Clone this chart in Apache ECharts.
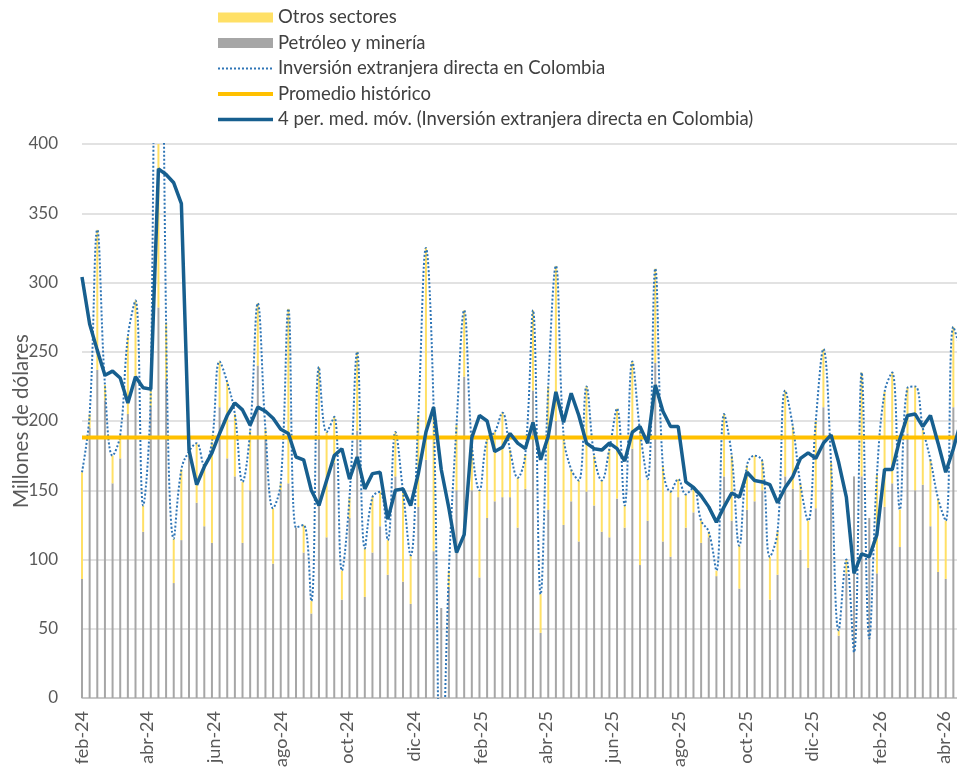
<!DOCTYPE html>
<html>
<head>
<meta charset="utf-8">
<script src="https://cdn.jsdelivr.net/npm/echarts@6/dist/echarts.min.js"></script>
<style>
  html, body { margin: 0; padding: 0; background: #fff; }
  #chart { width: 957px; height: 767px; }
</style>
</head>
<body>
<div id="chart"></div>
<script>
// weekly observations, first week = 2024-02-01
const START_DATE = '2024-02-01';

const tickDates = ['2024-02-01', '2024-04-01', '2024-06-01', '2024-08-01', '2024-10-01', '2024-12-01',
  '2025-02-01', '2025-04-01', '2025-06-01', '2025-08-01', '2025-10-01', '2025-12-01',
  '2026-02-01', '2026-04-01'];
const tickLabels = ['feb-24', 'abr-24', 'jun-24', 'ago-24', 'oct-24', 'dic-24',
  'feb-25', 'abr-25', 'jun-25', 'ago-25', 'oct-25', 'dic-25', 'feb-26', 'abr-26'];

const petroleo = [86, 195, 237, 215, 155, 173, 205, 230, 120, 210, 282, 230, 83, 114, 175, 141, 124, 112, 210, 173,
  160, 112, 150, 240, 190, 97, 150, 155, 123, 105, 61, 190, 116, 170, 71, 130, 193, 73, 105, 124,
  89, 160, 84, 68, 138, 172, 106, 65, 80, 150, 232, 150, 87, 130, 142, 145, 145, 123, 151, 222,
  47, 136, 200, 125, 142, 113, 149, 139, 120, 116, 144, 123, 180, 96, 128, 242, 113, 102, 145, 123,
  134, 112, 116, 88, 160, 128, 79, 136, 142, 150, 71, 89, 160, 151, 107, 94, 137, 210, 150, 45,
  90, 160, 160, 130, 90, 138, 155, 109, 191, 150, 154, 124, 91, 86, 210, 200];

const otros = [77, 10, 101, 11, 20, 17, 56, 57, 19, 12, 598, 41, 32, 51, 3, 43, 44, 73, 33, 55,
  45, 44, 43, 45, 4, 40, 5, 126, 0, 20, 9, 49, 76, 33, 21, 15, 57, 35, 40, 25,
  25, 32, 65, 35, 66, 153, 104, -144, 12, 47, 48, 33, 63, 57, 50, 61, 34, 36, 25, 58,
  28, 89, 112, 65, 23, 44, 76, 36, 37, 64, 65, 16, 63, 97, 30, 68, 54, 47, 13, 24,
  18, 16, 4, 4, 45, 47, 31, 32, 33, 21, 31, 31, 62, 45, 47, 34, 63, 42, 20, 4,
  10, -127, 75, -87, 71, 83, 80, 27, 33, 75, 41, 48, 53, 42, 58, 50];

const ied = [163, 205, 338, 226, 175, 190, 261, 287, 139, 222, 880, 271, 115, 165, 178, 184, 168, 185, 243, 228,
  205, 156, 193, 285, 194, 137, 155, 281, 123, 125, 70, 239, 192, 203, 92, 145, 250, 108, 145, 149,
  114, 192, 149, 103, 204, 325, 210, -79, 92, 197, 280, 183, 150, 187, 192, 206, 179, 159, 176, 280,
  75, 225, 312, 190, 165, 157, 225, 175, 157, 180, 209, 139, 243, 193, 158, 310, 167, 149, 158, 147,
  152, 128, 120, 92, 205, 175, 110, 168, 175, 171, 102, 120, 222, 196, 154, 128, 200, 252, 170, 49,
  100, 33, 235, 43, 161, 221, 235, 136, 224, 225, 195, 172, 144, 128, 268, 250];

const mediaMovil = [304, 270, 251, 233, 236, 231, 213, 232, 224, 223, 382, 378, 372, 357, 179, 154, 167, 177, 191, 204,
  213, 208, 197, 210, 207, 202, 194, 191, 174, 172, 150, 139, 157, 175, 180, 158, 174, 151, 162, 163,
  129, 150, 151, 139, 162, 192, 210, 165, 137, 105, 118, 188, 204, 200, 178, 181, 191, 184, 180, 199,
  172, 189, 221, 199, 220, 204, 184, 180, 179, 184, 180, 171, 192, 196, 184, 226, 207, 196, 196, 156,
  152, 146, 138, 127, 138, 148, 145, 163, 157, 156, 154, 141, 152, 160, 173, 177, 173, 184, 190, 170,
  145, 90, 104, 102, 118, 165, 165, 187, 204, 205, 196, 204, 184, 163, 180, 200];

const PROMEDIO = 188;

const DAY = 24 * 3600 * 1000;
const t0 = new Date(START_DATE + 'T00:00:00Z').getTime();
const weeks = ied.map((_, i) => new Date(t0 + i * 7 * DAY).toISOString().slice(0, 10));
const tMax = t0 + (ied.length - 1) * 7 * DAY;
const tickTimes = tickDates.map(d => new Date(d + 'T00:00:00Z').getTime());

const FONT = 'Lato, "Open Sans", sans-serif';
const chart = echarts.init(document.getElementById('chart'));

const noSymbol = { opacity: 0 };

const option = {
  animation: false,
  textStyle: { fontFamily: FONT },
  legend: {
    orient: 'vertical',
    left: 211,
    top: 3,
    itemWidth: 55,
    itemHeight: 10,
    itemGap: 6.5,
    textStyle: { fontSize: 18.5, color: '#404040', fontFamily: FONT },
    data: [
      { name: 'Otros sectores', icon: 'rect' },
      { name: 'Petróleo y minería', icon: 'rect' },
      { name: 'Inversión extranjera directa en Colombia', itemStyle: noSymbol, lineStyle: { width: 2 } },
      { name: 'Promedio histórico', itemStyle: noSymbol, lineStyle: { width: 4 } },
      { name: '4 per. med. móv. (Inversión extranjera directa en Colombia)', itemStyle: noSymbol, lineStyle: { width: 3.5 } }
    ]
  },
  grid: { left: 82, right: -4, top: 144, bottom: 69, outerBoundsMode: 'none', containLabel: false },
  xAxis: [
    {
      type: 'category',
      data: weeks,
      boundaryGap: false,
      axisLine: { lineStyle: { color: '#bfbfbf', width: 1.5 } },
      axisTick: { show: false },
      axisLabel: { show: false },
      splitLine: { show: false }
    },
    {
      // date scale used only for the month labels
      type: 'value',
      position: 'bottom',
      min: t0,
      max: tMax,
      axisLine: { show: false },
      axisTick: { show: false },
      splitLine: { show: false },
      axisLabel: {
        customValues: tickTimes,
        rotate: 90,
        margin: 13,
        fontSize: 18,
        color: '#595959',
        formatter: value => {
          const k = tickTimes.indexOf(value);
          return k >= 0 ? tickLabels[k] : '';
        }
      }
    }
  ],
  yAxis: {
    type: 'value',
    min: 0,
    max: 400,
    interval: 50,
    name: 'Millones de dólares',
    nameLocation: 'middle',
    nameRotate: 90,
    nameGap: 50,
    nameMoveOverlap: false,
    nameTextStyle: { fontSize: 20.5, color: '#595959' },
    axisLine: { show: false },
    axisTick: { show: false },
    axisLabel: { fontSize: 17, color: '#595959', margin: 24 },
    splitLine: { lineStyle: { color: '#d9d9d9', width: 1.5 } }
  },
  series: [
    {
      name: 'Petróleo y minería',
      type: 'bar',
      stack: 'ied',
      barWidth: 2,
      itemStyle: { color: '#a6a6a6' },
      data: petroleo
    },
    {
      name: 'Otros sectores',
      type: 'bar',
      stack: 'ied',
      barWidth: 2,
      itemStyle: { color: '#ffe066' },
      data: otros
    },
    {
      name: 'Inversión extranjera directa en Colombia',
      type: 'line',
      smooth: 0.4,
      symbol: 'none',
      lineStyle: { color: '#2e75b6', width: 2, type: 'dotted' },
      itemStyle: { color: '#2e75b6' },
      data: ied
    },
    {
      name: 'Promedio histórico',
      type: 'line',
      symbol: 'none',
      lineStyle: { color: '#ffc000', width: 4 },
      itemStyle: { color: '#ffc000' },
      data: ied.map(() => PROMEDIO)
    },
    {
      name: '4 per. med. móv. (Inversión extranjera directa en Colombia)',
      type: 'line',
      symbol: 'none',
      lineStyle: { color: '#175f8f', width: 3.5 },
      itemStyle: { color: '#175f8f' },
      data: mediaMovil
    }
  ]
};

chart.setOption(option);
</script>
</body>
</html>
